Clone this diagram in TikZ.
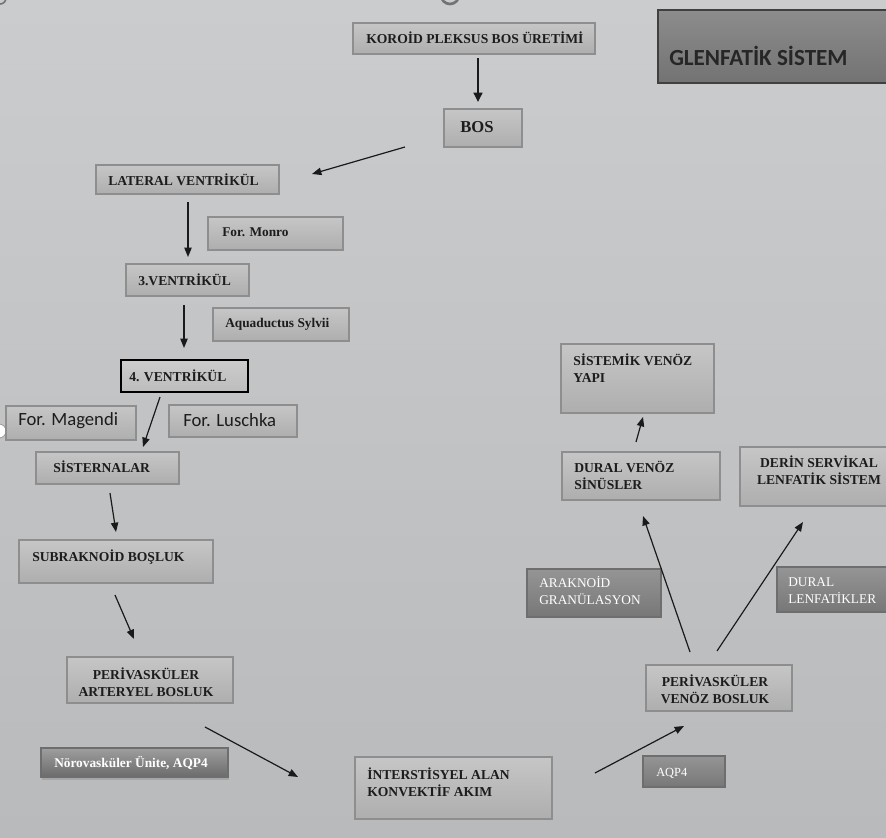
\documentclass[tikz,border=0pt]{standalone}
\usepackage{fontspec}
\setmainfont{Liberation Serif}
\newfontfamily\calibri{Carlito}
\usetikzlibrary{arrows.meta,fit,shadows}
\definecolor{bgtop}{HTML}{CBCCCE}
\definecolor{bgbot}{HTML}{B9BABC}
\definecolor{boxtop}{HTML}{C6C6C6}
\definecolor{boxbot}{HTML}{AEAEAE}
\definecolor{boxline}{HTML}{8E8E8E}
\definecolor{dtop}{HTML}{959595}
\definecolor{dbot}{HTML}{777777}
\definecolor{dline}{HTML}{6E6E6E}
\definecolor{txtc}{HTML}{1C1C1C}
\definecolor{arrc}{HTML}{1A1A1A}
\tikzset{
  box/.style={draw=boxline, line width=0.8pt, top color=boxtop, bottom color=boxbot, inner sep=0pt},
  dbox/.style={draw=dline, line width=0.8pt, top color=dtop, bottom color=dbot, inner sep=0pt},
  txt/.style={font=\bfseries\fontsize{10.2}{12.8}\selectfont, text=txtc, inner sep=0pt},
  wtxt/.style={font=\fontsize{10}{12.8}\selectfont, text=white, inner sep=0pt},
  stxt/.style={font=\calibri\fontsize{14}{16}\selectfont, text=txtc, inner sep=0pt},
  arr/.style={-{Triangle[length=7pt,width=5.5pt]}, line width=0.9pt, draw=arrc},
  bigarr/.style={-{Triangle[length=7pt,width=6.5pt]}, line width=2.2pt, draw=arrc}
}
\begin{document}
\begin{tikzpicture}[x=0.75pt,y=-0.75pt]
\useasboundingbox (0,0) rectangle (886,838);
\clip (0,0) rectangle (886,838);
\fill[top color=bgtop, bottom color=bgbot] (0,0) rectangle (886,838);
% small handle artifacts
\draw[draw=black!55, line width=2pt] (450,-5) circle (9);
\draw[draw=black!55, line width=1.2pt] (0,-2) circle (6);
\draw[draw=black!40, fill=white, line width=0.6pt] (-1,431) circle (7);

% boxes
\node[box, fit={(353,23) (595,54)}] (koroid) {};
\node[box, draw=black!75, line width=1.6pt, top color=black!45, bottom color=black!55, fit={(658,10) (900,83)}] (glen) {};
\node[box, fit={(444,109) (522,147)}] (bos) {};
\node[box, fit={(96,165) (279,194)}] (lat) {};
\node[box, fit={(208,217) (343,250)}] (monro) {};
\node[box, fit={(126,264) (249,296)}] (v3) {};
\node[box, fit={(213,308) (349,341)}] (aqua) {};
\node[box, draw=black, line width=1.2pt, top color=black!20, bottom color=black!26, fit={(121,360) (248,392)}] (v4) {};
\node[box, fit={(6,406) (136,440)}] (magendi) {};
\node[box, fit={(169,405) (297,437)}] (luschka) {};
\node[box, fit={(36,452) (179,484)}] (sist) {};
\node[box, fit={(19,540) (213,583)}] (subr) {};
\node[box, fit={(67,657) (233,703)}] (periart) {};
\node[dbox, drop shadow={opacity=0.35, shadow xshift=1pt, shadow yshift=-2pt}, top color=black!38, bottom color=black!58, fit={(41,748) (228,777)}] (norov) {};
\node[box, fit={(355,757) (552,819)}] (inter) {};
\node[dbox, fit={(643,756) (725,787)}] (aqp) {};
\node[box, fit={(646,665) (792,711)}] (periven) {};
\node[dbox, fit={(527,569) (661,617)}] (arak) {};
\node[dbox, fit={(777,567) (900,612)}] (durlen) {};
\node[box, fit={(562,452) (720,500)}] (dural) {};
\node[box, fit={(740,447) (900,506)}] (derin) {};
\node[box, fit={(561,344) (714,413)}] (sistemik) {};

% texts
\node[txt, anchor=west] (tkoroid) at (366,38) {KOROİD PLEKSUS BOS ÜRETİMİ};
\node[anchor=west, inner sep=0pt, text=black!85, font=\calibri\bfseries\fontsize{17.3}{20}\selectfont] (tglen) at (669,56) {GLENFATİK SİSTEM};
\node[txt, anchor=west, font=\bfseries\fontsize{12.5}{14}\selectfont] (tbos) at (460,127) {BOS};
\node[txt, anchor=west] (tlat) at (108,180) {LATERAL VENTRİKÜL};
\node[txt, anchor=west, font=\bfseries\fontsize{10}{12}\selectfont] (tmonro) at (222,232) {For. Monro};
\node[txt, anchor=west] (tv3) at (138,280) {3.VENTRİKÜL};
\node[txt, anchor=west, font=\bfseries\fontsize{10}{12}\selectfont] (taqua) at (225,324) {Aquaductus Sylvii};
\node[txt, anchor=west] (tv4) at (129,376) {4. VENTRİKÜL};
\node[stxt, anchor=west] (tmag) at (18,421) {For. Magendi};
\node[stxt, anchor=west] (tlus) at (183,420) {For. Luschka};
\node[txt, anchor=west] (tsist) at (53,467) {SİSTERNALAR};
\node[txt, anchor=west] (tsubr) at (32,557) {SUBRAKNOİD BOŞLUK};
\node[txt, align=center] (tperiart) at (146,682) {PERİVASKÜLER\\ARTERYEL BOSLUK};
\node[anchor=center, inner sep=0pt, text=white, font=\bfseries\fontsize{10}{11}\selectfont] (tnorov) at (131,763) {Nörovasküler Ünite, AQP4};
\node[txt, align=left, anchor=west] (tinter) at (367,782) {İNTERSTİSYEL ALAN\\KONVEKTİF AKIM};
\node[wtxt, anchor=west, font=\fontsize{9.3}{11}\selectfont] (taqp) at (656,773) {AQP4};
\node[txt, align=center] (tperiven) at (715,689) {PERİVASKÜLER\\VENÖZ BOSLUK};
\node[wtxt, align=left, anchor=west] (tarak) at (539,591) {ARAKNOİD\\GRANÜLASYON};
\node[wtxt, align=left, anchor=west] (tdurlen) at (788,591) {DURAL\\LENFATİKLER};
\node[txt, align=left, anchor=west] (tdural) at (574,475) {DURAL VENÖZ\\SİNÜSLER};
\node[txt, align=center] (tderin) at (819,470) {DERİN SERVİKAL\\LENFATİK SİSTEM};
\node[txt, align=left, anchor=west] (tsistemik) at (573,368) {SİSTEMİK VENÖZ\\YAPI};

% arrow end points
\coordinate (a1s) at (478,58);  \coordinate (a1e) at (478,102);
\coordinate (a2s) at (405,147); \coordinate (a2e) at (312,174);
\coordinate (a3s) at (188,202); \coordinate (a3e) at (188,257);
\coordinate (a4s) at (184,305); \coordinate (a4e) at (184,348);
\coordinate (a5s) at (160,397); \coordinate (a5e) at (143,447);
\coordinate (a6s) at (110,493); \coordinate (a6e) at (116,532);
\coordinate (a7s) at (115,595); \coordinate (a7e) at (134,639);
\coordinate (a8s) at (205,727); \coordinate (a8e) at (298,777);
\coordinate (a9s) at (595,773); \coordinate (a9e) at (684,726);
\coordinate (a10s) at (690,652); \coordinate (a10e) at (643,516);
\coordinate (a11s) at (717,651); \coordinate (a11e) at (803,522);
\coordinate (a12s) at (636,442); \coordinate (a12e) at (643,417);

\draw[bigarr] (a1s) -- (a1e);
\draw[arr] (a2s) -- (a2e);
\draw[arr] (a3s) -- (a3e);
\draw[arr] (a4s) -- (a4e);
\draw[arr] (a5s) -- (a5e);
\draw[arr] (a6s) -- (a6e);
\draw[arr] (a7s) -- (a7e);
\draw[arr] (a8s) -- (a8e);
\draw[arr] (a9s) -- (a9e);
\draw[arr] (a10s) -- (a10e);
\draw[arr] (a11s) -- (a11e);
\draw[arr] (a12s) -- (a12e);
\end{tikzpicture}
\end{document}
